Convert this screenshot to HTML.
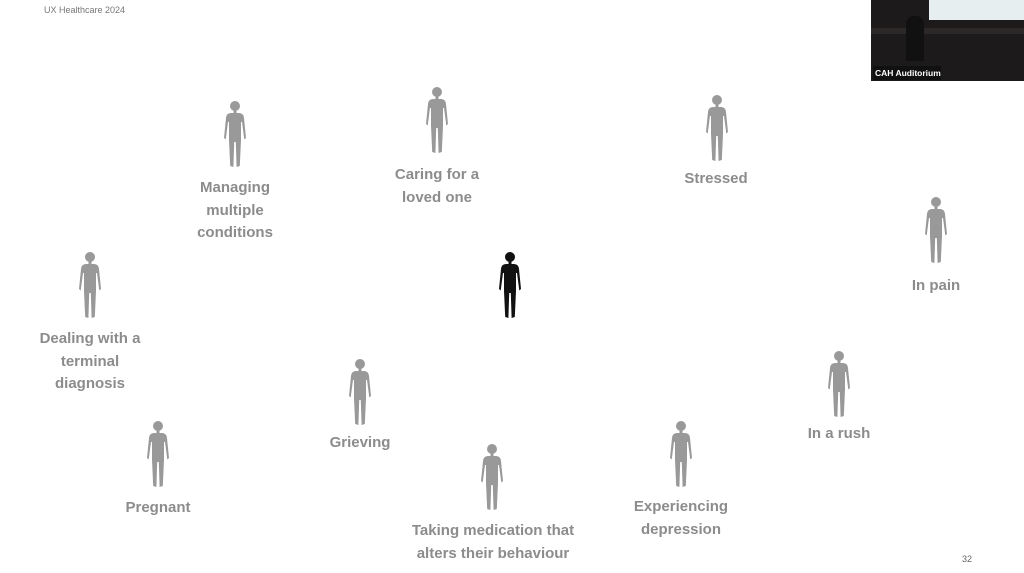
<!DOCTYPE html>
<html><head><meta charset="utf-8"><style>
html,body{margin:0;padding:0;background:#fff;}
#c{position:relative;width:1024px;height:573px;overflow:hidden;background:#fff;font-family:"Liberation Sans",sans-serif;}
.l{position:absolute;transform:translateX(-50%);text-align:center;color:#8c8c8c;font-weight:bold;font-size:15px;line-height:22.5px;white-space:nowrap;}
svg.f{position:absolute;width:26px;height:68px;}
</style></head><body><div id="c">
<svg width="0" height="0" style="position:absolute"><defs><g id="p">
<circle cx="13" cy="6" r="5"/>
<rect x="11.5" y="10" width="3" height="4"/>
<path d="M9,13 L17,13 Q21.5,13 22,18 L24,38 L22.3,39.5 L20,22 L19,22 L19,40 L17.8,66 L14.6,67 L13.8,42 L12.2,42 L11.4,67 L8.2,66 L7,40 L7,22 L6,22 L3.7,39.5 L2,38 L4,18 Q4.5,13 9,13 Z"/>
</g></defs></svg>

<div style="position:absolute;left:44px;top:5px;font-size:9px;color:#777;">UX Healthcare 2024</div>
<div style="position:absolute;left:962px;top:554px;font-size:9px;color:#666;">32</div>

<div style="position:absolute;left:871px;top:0;width:153px;height:81px;background:#1c1a1a;overflow:hidden;">
 <div style="position:absolute;left:58px;top:0;width:95px;height:20px;background:#e6eef0;"></div>
 <div style="position:absolute;left:0;top:28px;width:153px;height:6px;background:#2c2828;"></div>
 <div style="position:absolute;left:35px;top:16px;width:18px;height:45px;background:#111;border-radius:8px 8px 2px 2px;"></div>
 <div style="position:absolute;left:2px;top:66px;width:66px;height:14px;background:#111;color:#fff;font-size:8.5px;font-weight:bold;line-height:14px;padding-left:2px;">CAH Auditorium</div>
</div>

<svg class="f" style="left:222px;top:100px" fill="#999"><use href="#p"/></svg>
<div class="l" style="left:235px;top:177px">Managing<br>multiple<br>conditions</div>

<svg class="f" style="left:424px;top:86px" fill="#999"><use href="#p"/></svg>
<div class="l" style="left:437px;top:164px">Caring for a<br>loved one</div>

<svg class="f" style="left:704px;top:94px" fill="#999"><use href="#p"/></svg>
<div class="l" style="left:716px;top:168px">Stressed</div>

<svg class="f" style="left:923px;top:196px" fill="#999"><use href="#p"/></svg>
<div class="l" style="left:936px;top:275px">In pain</div>

<svg class="f" style="left:497px;top:251px" fill="#111"><use href="#p"/></svg>

<svg class="f" style="left:77px;top:251px" fill="#999"><use href="#p"/></svg>
<div class="l" style="left:90px;top:328px">Dealing with a<br>terminal<br>diagnosis</div>

<svg class="f" style="left:347px;top:358px" fill="#999"><use href="#p"/></svg>
<div class="l" style="left:360px;top:432px">Grieving</div>

<svg class="f" style="left:826px;top:350px" fill="#999"><use href="#p"/></svg>
<div class="l" style="left:839px;top:423px">In a rush</div>

<svg class="f" style="left:145px;top:420px" fill="#999"><use href="#p"/></svg>
<div class="l" style="left:158px;top:497px">Pregnant</div>

<svg class="f" style="left:479px;top:443px" fill="#999"><use href="#p"/></svg>
<div class="l" style="left:493px;top:520px">Taking medication that<br>alters their behaviour</div>

<svg class="f" style="left:668px;top:420px" fill="#999"><use href="#p"/></svg>
<div class="l" style="left:681px;top:496px">Experiencing<br>depression</div>
</div></body></html>
